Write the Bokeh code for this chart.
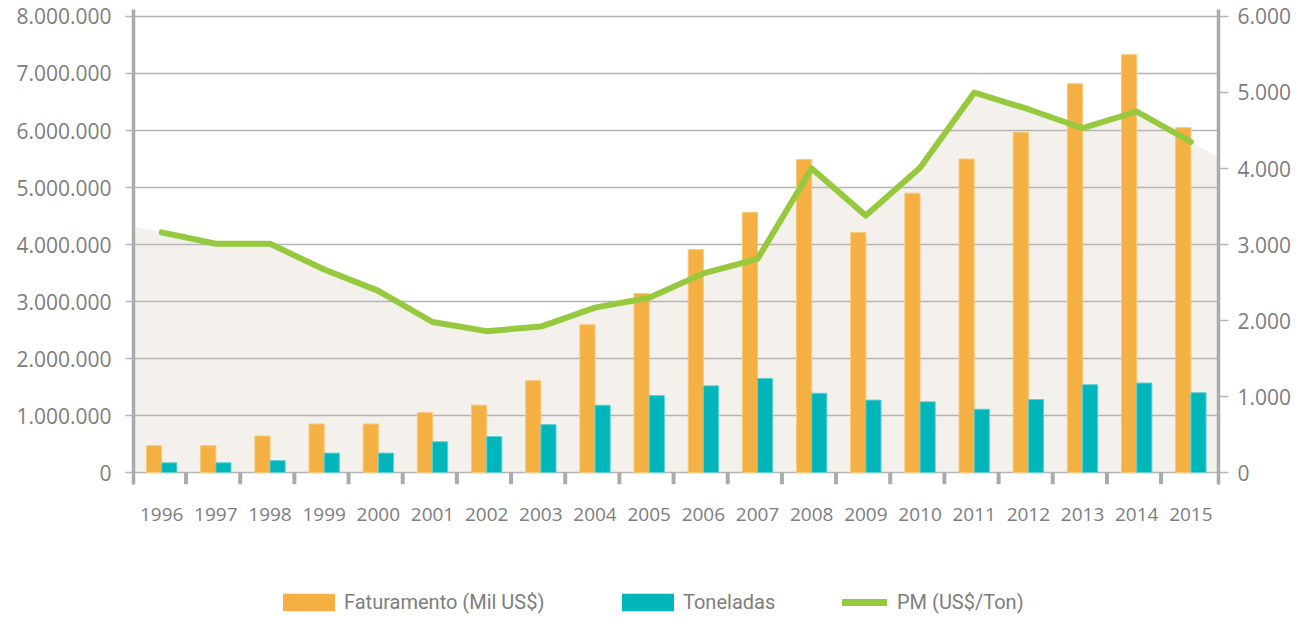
from bokeh.plotting import figure
from bokeh.layouts import column
from bokeh.models import LinearAxis, Range1d, FixedTicker, Legend, LegendItem, ColumnDataSource
from bokeh.embed import file_html
from bokeh.resources import INLINE

# ---------------- data ----------------
years = ["1996", "1997", "1998", "1999", "2000", "2001", "2002", "2003", "2004", "2005",
         "2006", "2007", "2008", "2009", "2010", "2011", "2012", "2013", "2014", "2015"]
faturamento = [470000, 470000, 640000, 850000, 850000, 1050000, 1180000, 1610000, 2590000, 3140000,
               3910000, 4560000, 5490000, 4210000, 4900000, 5500000, 5970000, 6820000, 7330000, 6050000]
toneladas = [170000, 170000, 210000, 340000, 340000, 540000, 630000, 840000, 1180000, 1350000,
             1520000, 1650000, 1390000, 1270000, 1240000, 1110000, 1280000, 1540000, 1570000, 1400000]
pm = [3160, 3010, 3010, 2670, 2390, 1980, 1860, 1920, 2170, 2300,
      2620, 2810, 4000, 3380, 4010, 5000, 4780, 4530, 4750, 4350]
left_ticks = [0, 1000000, 2000000, 3000000, 4000000, 5000000, 6000000, 7000000, 8000000]
left_labels = ["0", "1.000.000", "2.000.000", "3.000.000", "4.000.000", "5.000.000",
               "6.000.000", "7.000.000", "8.000.000"]
right_ticks = [0, 1000, 2000, 3000, 4000, 5000, 6000]
right_labels = ["0", "1.000", "2.000", "3.000", "4.000", "5.000", "6.000"]
series_names = ["Faturamento (Mil US$)", "Toneladas", "PM (US$/Ton)"]

# ---------------- styles ----------------
ORANGE = "#f4b042"
TEAL = "#00b6bb"
GREEN = "#96c93d"
AREA = "#f4f1ec"
GRID = "#b4b4b6"
AXIS = "#a9aaad"
TEXT = "#7d7d7d"

n = len(years)
idx = list(range(n))
x_lo, x_hi = -0.52, n - 1 + 0.51
y_lo, y_hi = -210500, 8122800
ratio = 6000 / 8000000.0

p = figure(width=1306, height=545, x_range=Range1d(x_lo, x_hi), y_range=Range1d(y_lo, y_hi),
           output_backend="svg", toolbar_location=None,
           min_border_left=133, min_border_right=88, min_border_top=9, min_border_bottom=61,
           outline_line_color=None, background_fill_color="white", border_fill_color="white")
p.extra_y_ranges = {"pm": Range1d(y_lo * ratio, y_hi * ratio)}

# background area following the PM line, extended to the plot edges
area_x = [x_lo] + idx + [x_hi]
left_val = pm[0] + (pm[1] - pm[0]) * (x_lo - 0)
right_val = pm[-1] + (pm[-1] - pm[-2]) * (x_hi - (n - 1))
area_y = [left_val] + pm + [right_val]
p.varea(x=area_x, y1=[0] * len(area_x), y2=area_y, fill_color=AREA, y_range_name="pm", level="image")

src = ColumnDataSource(dict(x=idx, fat=faturamento, ton=toneladas, pm=pm,
                            xo=[i - 0.14 for i in idx], xt=[i + 0.14 for i in idx]))
p.vbar(x="xo", top="fat", bottom=0, width=0.28, source=src, fill_color=ORANGE,
       line_color="#f7c878", line_width=1)
p.vbar(x="xt", top="ton", bottom=0, width=0.28, source=src, fill_color=TEAL,
       line_color="#5fcfd2", line_width=1)
p.line(x="x", y="pm", source=src, y_range_name="pm", line_color=GREEN, line_width=6,
       line_cap="round", line_join="round")

# category boundary tick marks below the zero line
bx = [i + 0.45 for i in idx[:-1]]
p.segment(x0=bx, y0=[0] * len(bx), x1=bx, y1=[y_lo] * len(bx), line_color=AXIS, line_width=4)

# grid
p.xgrid.grid_line_color = None
p.ygrid.ticker = FixedTicker(ticks=left_ticks)
p.ygrid.grid_line_color = GRID
p.ygrid.grid_line_width = 1.5

# x axis (labels only)
xa = p.xaxis[0]
xa.ticker = FixedTicker(ticks=idx)
xa.major_label_overrides = {i: y for i, y in zip(idx, years)}
xa.axis_line_color = None
xa.major_tick_line_color = None
xa.minor_tick_line_color = None
xa.major_label_standoff = 17
xa.major_label_text_font = "Open Sans"
xa.major_label_text_font_size = "19px"
xa.major_label_text_color = TEXT

# left axis
ya = p.yaxis[0]
ya.ticker = FixedTicker(ticks=left_ticks)
ya.major_label_overrides = {t: l for t, l in zip(left_ticks, left_labels)}
ya.axis_line_color = AXIS
ya.axis_line_width = 3.5
ya.major_tick_line_color = GRID
ya.major_tick_line_width = 1.5
ya.major_tick_out = 8
ya.major_tick_in = 0
ya.minor_tick_line_color = None
ya.major_label_standoff = 14
ya.major_label_text_font = "Open Sans"
ya.major_label_text_font_size = "21px"
ya.major_label_text_color = TEXT

# right axis
ra = LinearAxis(y_range_name="pm", ticker=FixedTicker(ticks=right_ticks))
ra.major_label_overrides = {t: l for t, l in zip(right_ticks, right_labels)}
ra.axis_line_color = AXIS
ra.axis_line_width = 3.5
ra.major_tick_line_color = GRID
ra.major_tick_line_width = 1.5
ra.major_tick_out = 10
ra.major_tick_in = 0
ra.minor_tick_line_color = None
ra.major_label_standoff = 9
ra.major_label_text_font = "Open Sans"
ra.major_label_text_font_size = "21px"
ra.major_label_text_color = TEXT
p.add_layout(ra, "right")

# ---------------- legend strip (its frame is aligned with the chart's frame) ----------------
FRAME_LEFT = 133
lf = figure(width=1306, height=72, x_range=Range1d(-100, -99), y_range=Range1d(0, 1),
            output_backend="svg", toolbar_location=None, x_axis_type=None, y_axis_type=None,
            min_border=0, outline_line_color=None, background_fill_color="white",
            border_fill_color="white")
lf.xgrid.visible = False
lf.ygrid.visible = False
# same data, muted (invisible) in this strip: only their legend glyphs show
l_fat = lf.vbar(x="xo", top="fat", width=0.28, source=src, fill_color=ORANGE, line_color=None,
                muted_alpha=0)
l_ton = lf.vbar(x="xt", top="ton", width=0.28, source=src, fill_color=TEAL, line_color=None,
                muted_alpha=0)
l_pm = lf.line(x="x", y="pm", source=src, line_color=GREEN, line_width=7, line_cap="round",
               muted_alpha=0)
for r in (l_fat, l_ton, l_pm):
    r.muted = True


def make_legend(label, rend, x, gw, gh, standoff):
    lg = Legend(items=[LegendItem(label=label, renderers=[rend])], location=(x - FRAME_LEFT, 3),
                orientation="horizontal", glyph_width=gw, glyph_height=gh, label_standoff=standoff,
                padding=0, margin=0, spacing=0, border_line_color=None, background_fill_alpha=0,
                label_text_font="Roboto", label_text_font_size="20px", label_text_color=TEXT,
                label_height=18)
    lf.add_layout(lg, "center")


make_legend(series_names[0], l_fat, 276, 65, 22, 3)
make_legend(series_names[1], l_ton, 615, 65, 22, 3)
make_legend(series_names[2], l_pm, 842, 45, 22, 10)

layout = column(p, lf, spacing=0)
open("out.html", "w").write(file_html(layout, INLINE))
